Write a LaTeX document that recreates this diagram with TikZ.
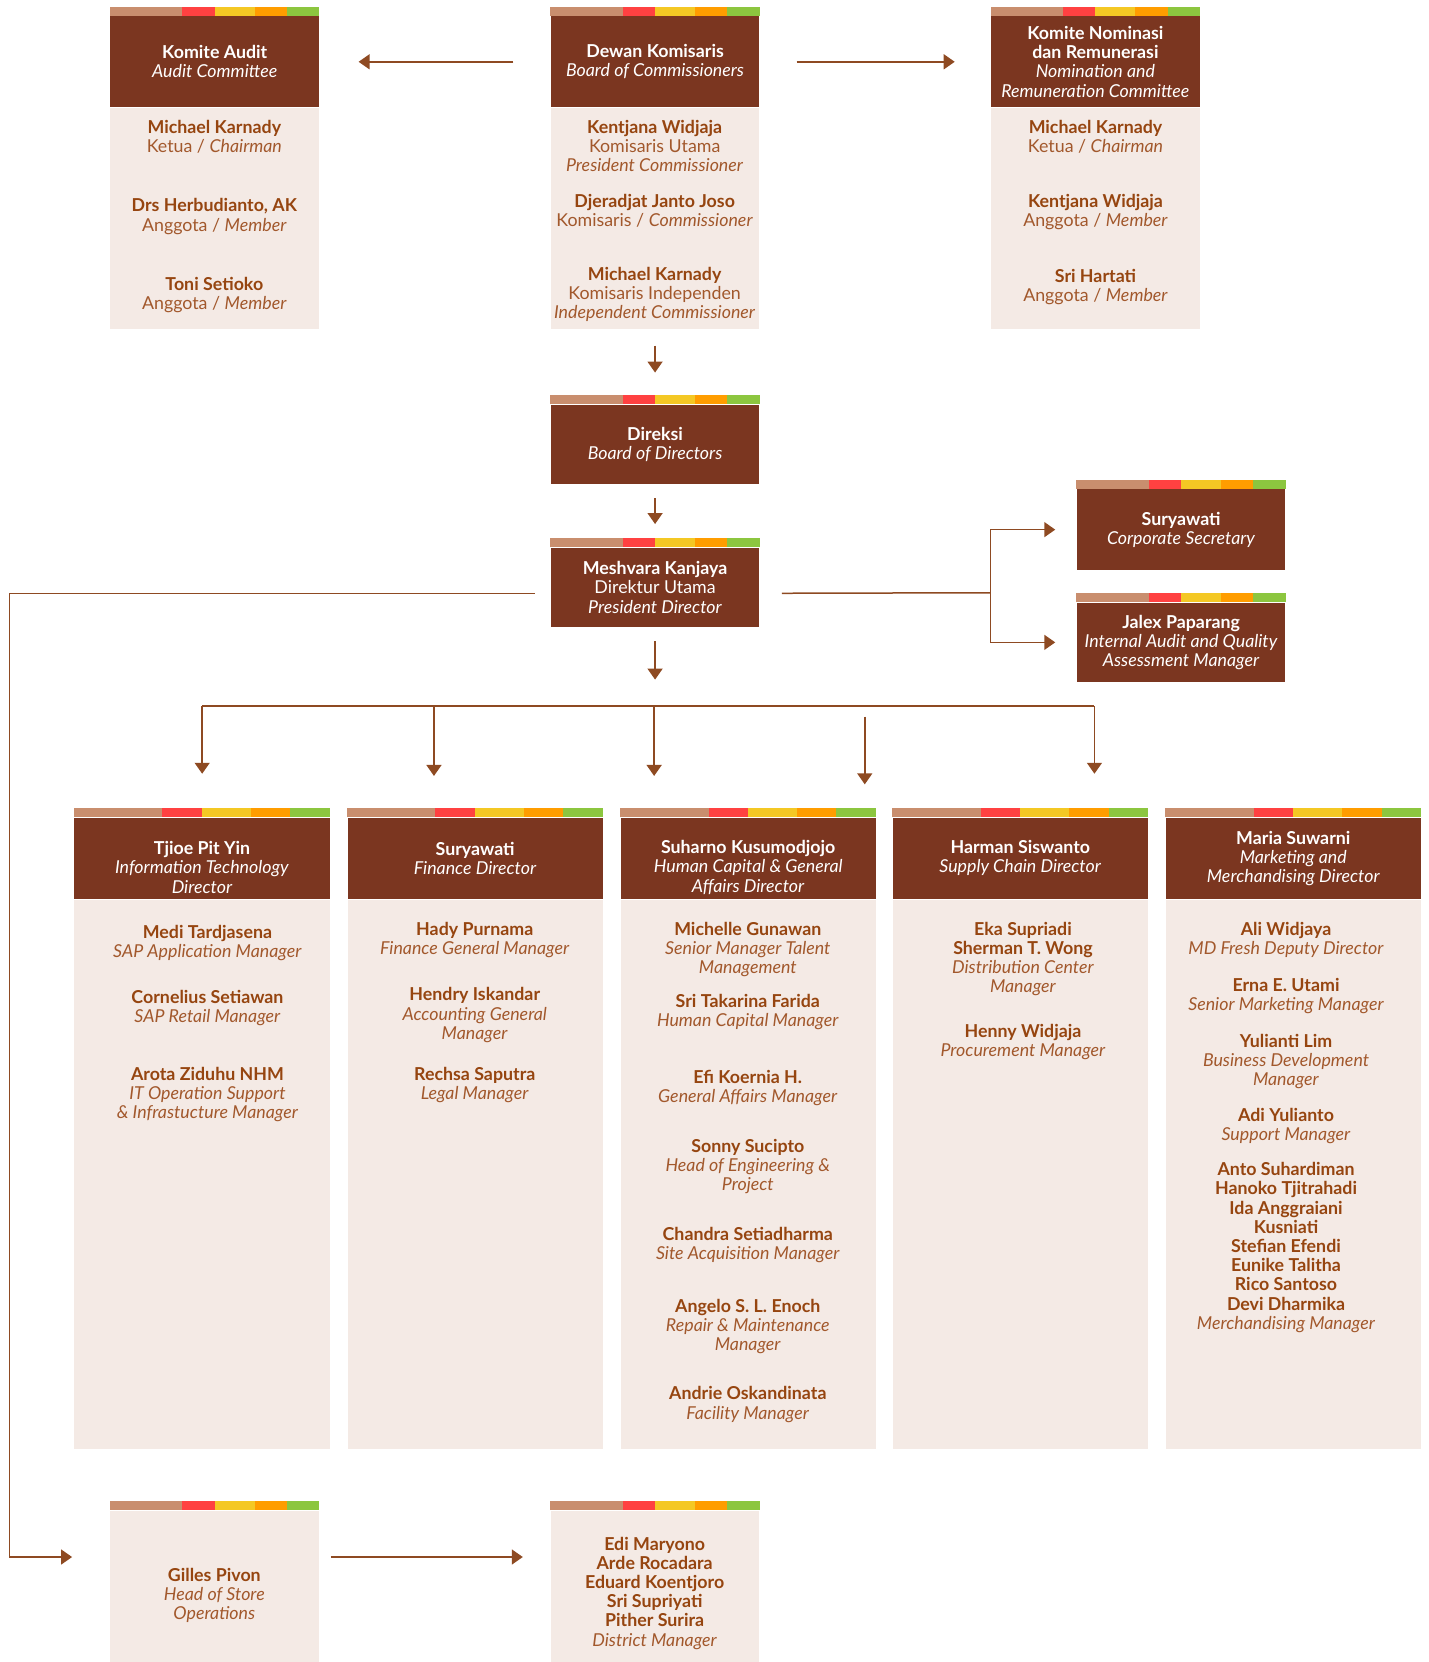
\documentclass[tikz,border=0pt]{standalone}
\usepackage{fontspec}
\setmainfont{Lato}
\usetikzlibrary{arrows.meta,calc}

\definecolor{hdBrown}{HTML}{7B3620}
\definecolor{bodyBg}{HTML}{F4EAE5}
\definecolor{nameC}{HTML}{964510}
\definecolor{roleC}{HTML}{A2582C}
\definecolor{lineC}{HTML}{8E4A22}
\definecolor{bTan}{HTML}{C98E6E}
\definecolor{bRed}{HTML}{FF4141}
\definecolor{bYel}{HTML}{F4C824}
\definecolor{bOra}{HTML}{FF9D00}
\definecolor{bGrn}{HTML}{8CC63F}

\newcommand{\upx}{0.52925pt}
\newcommand{\nm}[1]{\textbf{\color{nameC}#1}}
% coloured bar on top of a box
\newcommand{\colbar}[1]{%
  \foreach \fa/\fb/\fc in {0/.345/bTan,.345/.5/bRed,.5/.69/bYel,.69/.845/bOra,.845/1/bGrn}
    \fill[fill=\fc] ($(#1.north west)!\fa!(#1.north east)$) rectangle ($(#1.north west)!\fb!(#1.north east)+(0,4.6pt)$);%
}

\tikzset{
  head/.style={rectangle, fill=hdBrown, text=white, anchor=north west, inner sep=0pt, align=center, font=\fontsize{8.9}{9.6}\selectfont},
  htxt/.style={align=center, inner sep=0pt, text=white, font=\fontsize{8.9}{9.6}\selectfont},
  body/.style={rectangle, fill=bodyBg, anchor=north west, inner sep=0pt},
  narrow/.style={minimum width=197*\upx},
  wide/.style={minimum width=241*\upx},
  txt/.style={align=center, inner sep=0pt, text=roleC, font=\fontsize{8.9}{9.6}\selectfont},
  ln/.style={draw=lineC, line width=0.75pt},
  arr/.style={ln, -{Triangle[width=7.5pt,length=5.5pt]}},
}

\begin{document}
\begin{tikzpicture}[x=\upx, y=-\upx]
  \useasboundingbox (0,0) rectangle (1350,1570.2);

  % commissioners and committees
  \node[head,narrow,minimum height=86*\upx] (ac) at (104,15) {\textbf{Komite Audit}\\\textit{Audit Committee}};
  \node[body,narrow,minimum height=209*\upx] (acb) at (ac.south west) {};
  \colbar{ac}
  \node[txt] (ac1) at (202.5,129) {\nm{Michael Karnady}\\Ketua / \textit{Chairman}};
  \node[txt] (ac2) at (202.5,204.5) {\nm{Drs Herbudianto, AK}\\Anggota / \textit{Member}};
  \node[txt] (ac3) at (202.5,279) {\nm{Toni Setioko}\\Anggota / \textit{Member}};

  \node[head,narrow,minimum height=86*\upx] (bc) at (520,15) {\textbf{Dewan Komisaris}\\\textit{Board of Commissioners}};
  \node[body,narrow,minimum height=209*\upx] (bcb) at (bc.south west) {};
  \colbar{bc}
  \node[txt] (bc1) at (618.5,138) {\nm{Kentjana Widjaja}\\Komisaris Utama\\\textit{President Commissioner}};
  \node[txt] (bc2) at (618.5,199) {\nm{Djeradjat Janto Joso}\\Komisaris / \textit{Commissioner}};
  \node[txt] (bc3) at (618.5,278) {\nm{Michael Karnady}\\Komisaris Independen\\\textit{Independent Commissioner}};

  \node[head,narrow,minimum height=86*\upx] (nr) at (936,15) {\textbf{Komite Nominasi}\\\textbf{dan Remunerasi}\\\textit{Nomination and}\\\textit{Remuneration Committee}};
  \node[body,narrow,minimum height=209*\upx] (nrb) at (nr.south west) {};
  \colbar{nr}
  \node[txt] (nr1) at (1035,129) {\nm{Michael Karnady}\\Ketua / \textit{Chairman}};
  \node[txt] (nr2) at (1035,200) {\nm{Kentjana Widjaja}\\Anggota / \textit{Member}};
  \node[txt] (nr3) at (1035,271) {\nm{Sri Hartati}\\Anggota / \textit{Member}};

  % directors
  \node[head,narrow,minimum height=75*\upx] (bd) at (520,382) {\textbf{Direksi}\\\textit{Board of Directors}};
  \colbar{bd}
  \node[head,narrow,minimum height=75*\upx] (pd) at (520,517) {\textbf{Meshvara Kanjaya}\\Direktur Utama\\\textit{President Director}};
  \colbar{pd}
  \node[head,narrow,minimum height=76*\upx] (cs) at (1017,462) {\textbf{Suryawati}\\\textit{Corporate Secretary}};
  \colbar{cs}
  \node[head,narrow,minimum height=75*\upx] (ia) at (1017,569) {\textbf{Jalex Paparang}\\\textit{Internal Audit and Quality}\\\textit{Assessment Manager}};
  \colbar{ia}

  % directorates
  \node[head,wide,minimum height=77*\upx] (it) at (70,772) {};
  \node[htxt] (itt) at ([yshift=-4.5pt]it.center) {\textbf{Tjioe Pit Yin}\\\textit{Information Technology}\\\textit{Director}};
  \node[head,wide,minimum height=77*\upx] (fin) at (328,772) {\textbf{Suryawati}\\\textit{Finance Director}};
  \node[head,wide,minimum height=77*\upx] (hc) at (586,772) {};
  \node[htxt] (hct) at ([yshift=-4.5pt]hc.center) {\textbf{Suharno Kusumodjojo}\\\textit{Human Capital \& General}\\\textit{Affairs Director}};
  \node[head,wide,minimum height=77*\upx] (sc) at (843,772) {\textbf{Harman Siswanto}\\\textit{Supply Chain Director}};
  \node[head,wide,minimum height=77*\upx] (mk) at (1101,772) {\textbf{Maria Suwarni}\\\textit{Marketing and}\\\textit{Merchandising Director}};
  \foreach \b in {it,fin,hc,sc,mk}{
    \node[body,wide,minimum height=519*\upx] (\b b) at (\b.south west) {};
    \colbar{\b}
  }

  \node[txt] (it1) at (196,891) {\nm{Medi Tardjasena}\\\textit{SAP Application Manager}};
  \node[txt] (it2) at (196,952) {\nm{Cornelius Setiawan}\\\textit{SAP Retail Manager}};
  \node[txt] (it3) at (196,1034) {\nm{Arota Ziduhu NHM}\\\textit{IT Operation Support}\\\textit{\& Infrastucture Manager}};

  \node[txt] (fin1) at (448.5,888) {\nm{Hady Purnama}\\\textit{Finance General Manager}};
  \node[txt] (fin2) at (448.5,959) {\nm{Hendry Iskandar}\\\textit{Accounting General}\\\textit{Manager}};
  \node[txt] (fin3) at (448.5,1025) {\nm{Rechsa Saputra}\\\textit{Legal Manager}};

  \node[txt] (hc1) at (706.5,897) {\nm{Michelle Gunawan}\\\textit{Senior Manager Talent}\\\textit{Management}};
  \node[txt] (hc2) at (706.5,956) {\nm{Sri Takarina Farida}\\\textit{Human Capital Manager}};
  \node[txt] (hc3) at (706.5,1028) {\nm{Efi Koernia H.}\\\textit{General Affairs Manager}};
  \node[txt] (hc4) at (706.5,1102) {\nm{Sonny Sucipto}\\\textit{Head of Engineering \&}\\\textit{Project}};
  \node[txt] (hc5) at (706.5,1176) {\nm{Chandra Setiadharma}\\\textit{Site Acquisition Manager}};
  \node[txt] (hc6) at (706.5,1253) {\nm{Angelo S. L. Enoch}\\\textit{Repair \& Maintenance}\\\textit{Manager}};
  \node[txt] (hc7) at (706.5,1327) {\nm{Andrie Oskandinata}\\\textit{Facility Manager}};

  \node[txt] (sc1) at (966.5,906) {\nm{Eka Supriadi}\\\nm{Sherman T. Wong}\\\textit{Distribution Center}\\\textit{Manager}};
  \node[txt] (sc2) at (966.5,984.5) {\nm{Henny Widjaja}\\\textit{Procurement Manager}};

  \node[txt] (mk1) at (1215,888) {\nm{Ali Widjaya}\\\textit{MD Fresh Deputy Director}};
  \node[txt] (mk2) at (1215,941) {\nm{Erna E. Utami}\\\textit{Senior Marketing Manager}};
  \node[txt] (mk3) at (1215,1003) {\nm{Yulianti Lim}\\\textit{Business Development}\\\textit{Manager}};
  \node[txt] (mk4) at (1215,1064) {\nm{Adi Yulianto}\\\textit{Support Manager}};
  \node[txt] (mk5) at (1215,1178.5) {\nm{Anto Suhardiman}\\\nm{Hanoko Tjitrahadi}\\\nm{Ida Anggraiani}\\\nm{Kusniati}\\\nm{Stefian Efendi}\\\nm{Eunike Talitha}\\\nm{Rico Santoso}\\\nm{Devi Dharmika}\\\textit{Merchandising Manager}};

  % store operations
  \node[body,narrow,minimum height=143.2*\upx] (gp) at (104,1427) {};
  \colbar{gp}
  \node[txt] (gp1) at (202.5,1507) {\nm{Gilles Pivon}\\\textit{Head of Store}\\\textit{Operations}};
  \node[body,narrow,minimum height=143.2*\upx] (dm) at (520,1427) {};
  \colbar{dm}
  \node[txt] (dm1) at (618.5,1505) {\nm{Edi Maryono}\\\nm{Arde Rocadara}\\\nm{Eduard Koentjoro}\\\nm{Sri Supriyati}\\\nm{Pither Surira}\\\textit{District Manager}};

  % connectors
  \draw[arr, shorten <=18.5pt, shorten >=19.6pt] (bc.west) -- (ac.east);
  \draw[arr, shorten <=18.5pt, shorten >=18pt] (bc.east) -- (nr.west);
  \draw[arr, shorten <=7.9pt, shorten >=15.9pt] (bcb.south) -- (bd.north);
  \draw[arr, shorten <=6.9pt, shorten >=11.6pt] (bd.south) -- (pd.north);

  \coordinate (lc) at (9,1471);
  \draw[arr, shorten <=7.9pt, shorten >=19pt] ([yshift=-3pt]pd.west) -| (lc) -- (gp.west |- lc);
  \draw[arr, shorten <=5.8pt, shorten >=13.8pt] (gp.east |- lc) -- (dm.west |- lc);

  \coordinate (rj) at (936,560);
  \draw[ln, shorten <=11.1pt] ([yshift=-3pt]pd.east) -- (rj);
  \draw[arr, shorten >=10.6pt] (rj) |- (cs.west);
  \draw[arr, shorten >=10.6pt] (rj) |- (ia.west);

  \coordinate (bl) at (191,667);
  \coordinate (br) at (1034,667);
  \draw[ln] (bl) -- (br);
  \draw[arr, shorten <=6.9pt, shorten >=13.2pt] (pd.south) -- (pd.south |- bl);
  \foreach \x/\b/\s in {191/it/21.7,410/fin/20.6,618/hc/20.6,1034/mk/21.7}{
    \coordinate (dr) at (\x,667);
    \draw[arr, shorten >=\s pt] (dr) -- (dr |- \b.north);
  }
  \coordinate (ds) at (817,677);
  \draw[arr, shorten >=16.4pt] (ds) -- (ds |- sc.north);
\end{tikzpicture}
\end{document}
